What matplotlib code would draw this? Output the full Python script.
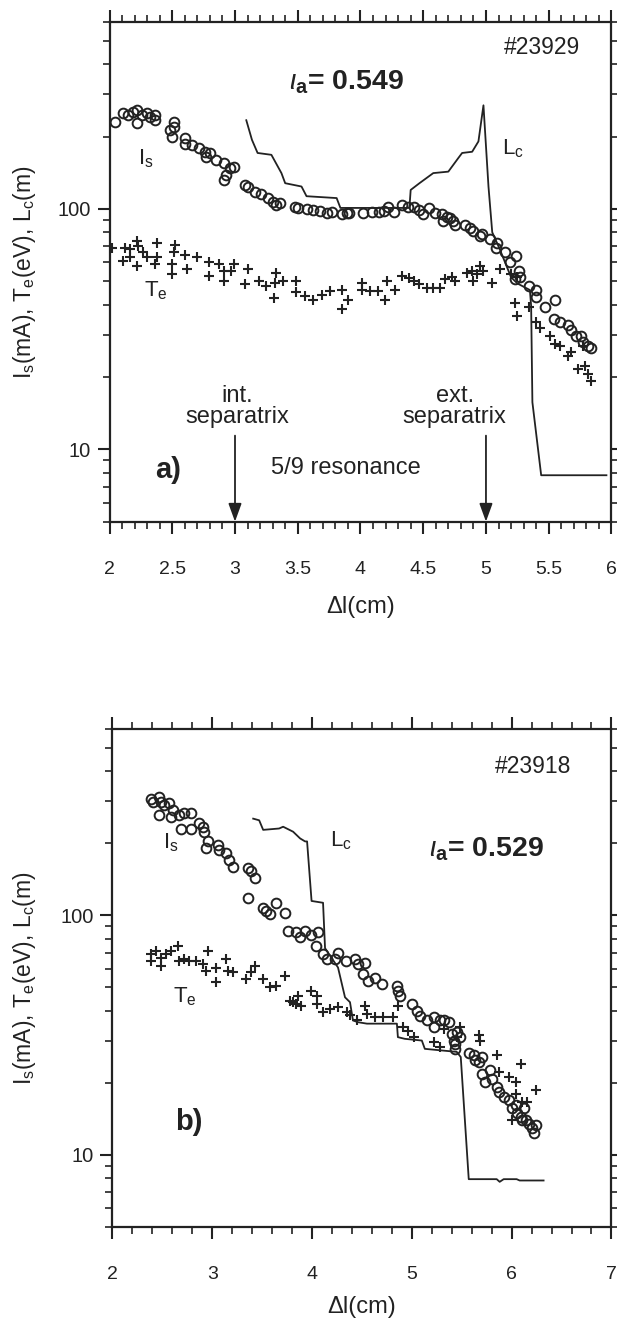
import matplotlib
matplotlib.use('Agg')
import matplotlib.pyplot as plt
import matplotlib.ticker as ticker

plt.rcParams['font.family'] = ['Liberation Sans', 'DejaVu Sans']
plt.rcParams['mathtext.fontset'] = 'custom'
plt.rcParams['mathtext.rm'] = 'Liberation Sans'
plt.rcParams['mathtext.it'] = 'Liberation Sans:italic'
plt.rcParams['mathtext.bf'] = 'Liberation Sans:bold'

ink = '#222222'

# ---- panel a) shot #23929 ----
a_is_x = [2.04, 2.11, 2.15, 2.19, 2.22, 2.22, 2.26, 2.30, 2.32, 2.36, 2.36, 2.48, 2.50, 2.51, 2.51,
          2.60, 2.60, 2.66, 2.71, 2.76, 2.77, 2.80, 2.85, 2.91, 2.91, 2.93, 2.96, 2.99, 3.08, 3.10,
          3.16, 3.21, 3.26, 3.30, 3.33, 3.36, 3.48, 3.50, 3.57, 3.62, 3.68, 3.73, 3.77, 3.85, 3.89,
          3.91, 4.02, 4.09, 4.15, 4.19, 4.22, 4.27, 4.33, 4.38, 4.43, 4.47, 4.50, 4.55, 4.59, 4.65,
          4.66, 4.69, 4.71, 4.74, 4.75, 4.83, 4.87, 4.90, 4.95, 4.97, 5.03, 5.08, 5.09, 5.15, 5.19,
          5.23, 5.24, 5.26, 5.27, 5.34, 5.40, 5.40, 5.47, 5.54, 5.55, 5.59, 5.65, 5.68, 5.72, 5.76,
          5.77, 5.81, 5.84]
a_is_y = [231, 251, 245, 254, 258, 227, 245, 250, 242, 245, 235, 213, 200, 231, 220,
          197, 187, 184, 179, 173, 165, 171, 160, 155, 132, 139, 148, 150, 126, 124,
          118, 115, 111, 107, 104, 106, 102, 101, 100, 99, 98, 96, 97, 95, 96,
          96, 96, 97, 97, 98, 102, 97, 104, 102, 102, 99, 95, 101, 96, 95,
          89, 93, 92, 89, 86, 86, 83, 81, 77, 79, 75, 69, 72, 66, 60,
          51, 64, 55, 52, 48, 46, 43, 39, 35, 42, 34, 33, 31.5, 29.7, 29.7,
          28, 27, 26.5]

a_te_x = [2.02, 2.11, 2.12, 2.16, 2.16, 2.22, 2.22, 2.23, 2.27, 2.30, 2.36, 2.375, 2.375, 2.50, 2.50,
          2.51, 2.52, 2.60, 2.62, 2.70, 2.79, 2.79, 2.87, 2.91, 2.91, 2.97, 2.99, 3.08, 3.10, 3.19,
          3.25, 3.31, 3.32, 3.33, 3.385, 3.49, 3.49, 3.56, 3.62, 3.69, 3.76, 3.85, 3.85, 3.90, 4.01,
          4.01, 4.075, 4.14, 4.195, 4.21, 4.275, 4.33, 4.39, 4.43, 4.47, 4.53, 4.58, 4.63, 4.67, 4.73,
          4.75, 4.85, 4.89, 4.90, 4.93, 4.95, 4.98, 5.05, 5.11, 5.20, 5.23, 5.245, 5.25, 5.34, 5.40,
          5.43, 5.51, 5.55, 5.59, 5.655, 5.68, 5.735, 5.77, 5.79, 5.815, 5.84]
a_te_y = [69, 61, 69, 68, 63, 73.5, 58, 70, 66, 63, 59, 72, 63, 59, 53.5,
          66, 71, 64.5, 56, 63, 60, 52.5, 59, 55, 50, 55, 59, 48.5, 56, 50,
          48, 42.7, 49, 54, 50, 50, 45, 43.5, 42, 44, 45.6, 46, 38.3, 42, 49,
          46, 45.6, 45.6, 42, 50, 46, 52.5, 51.8, 50, 48.5, 47, 47, 47, 51, 52,
          50, 54, 55, 50, 53.5, 58, 55, 49, 56, 53.5, 40.8, 35.9, 52, 39, 33.7,
          32, 29.7, 27.4, 26.9, 24.5, 25.5, 21.6, 27, 22.3, 20.6, 19.3]

a_lc_x = [3.09, 3.135, 3.18, 3.29, 3.37, 3.40, 3.53, 3.57, 3.81, 3.84, 4.39, 4.40, 4.47, 4.58,
          4.70, 4.78, 4.81, 4.89, 4.94, 4.98, 5.02, 5.05, 5.11, 5.20, 5.25, 5.35, 5.36, 5.37,
          5.44, 5.96]
a_lc_y = [234, 194, 171, 168, 141, 128, 124, 113, 111, 101, 101, 120, 128, 141,
          143, 163, 171, 173, 191, 270, 124, 80, 68, 52, 49, 46, 39.5, 15.7,
          7.8, 7.8]

# ---- panel b) shot #23918 ----
b_is_x = [2.39, 2.405, 2.47, 2.47, 2.49, 2.52, 2.57, 2.59, 2.605, 2.67, 2.69, 2.72, 2.79, 2.79, 2.87,
          2.91, 2.92, 2.94, 2.96, 3.06, 3.07, 3.14, 3.17, 3.21, 3.36, 3.36, 3.39, 3.43, 3.51, 3.54,
          3.58, 3.64, 3.73, 3.76, 3.84, 3.88, 3.93, 3.99, 4.04, 4.06, 4.11, 4.145, 4.23, 4.26, 4.34,
          4.43, 4.46, 4.51, 4.53, 4.56, 4.63, 4.70, 4.85, 4.865, 4.88, 5.00, 5.05, 5.08, 5.15, 5.22,
          5.22, 5.28, 5.32, 5.37, 5.40, 5.42, 5.43, 5.45, 5.43, 5.48, 5.57, 5.62, 5.63, 5.67, 5.70,
          5.70, 5.735, 5.785, 5.80, 5.85, 5.87, 5.92, 5.97, 6.00, 6.04, 6.05, 6.09, 6.10, 6.12, 6.14,
          6.17, 6.20, 6.22, 6.24]
b_is_y = [308, 299, 313, 263, 299, 289, 294, 258, 275, 263, 231, 267, 267, 231, 243,
          235, 224, 191, 204, 197, 188, 182, 171, 160, 158, 118, 153, 143, 107.6, 104,
          101, 113, 102.5, 86, 85, 81, 86, 83, 74.5, 85, 69, 65.7, 65.7, 70, 64.6,
          65.7, 62.5, 56.9, 63.5, 53.3, 55, 51.6, 50.8, 48.4, 46, 42.7, 40, 38, 36.4, 37.5,
          34.1, 36.4, 36.4, 35.8, 32, 30, 29.1, 32.5, 27.7, 31, 26.5, 26, 24.8, 24.4, 25.6,
          21.8, 20.2, 22.5, 20.8, 19.2, 18.3, 17.5, 16.9, 15.6, 16.1, 14.9, 14.4, 14, 15.6, 14,
          13.5, 12.9, 12.3, 13.3]

b_te_x = [2.39, 2.39, 2.44, 2.49, 2.49, 2.54, 2.59, 2.66, 2.67, 2.72, 2.77, 2.84, 2.91, 2.94, 2.96,
          3.04, 3.04, 3.14, 3.16, 3.21, 3.34, 3.39, 3.43, 3.51, 3.58, 3.64, 3.73, 3.78, 3.81, 3.84,
          3.86, 3.89, 3.99, 4.05, 4.05, 4.11, 4.18, 4.26, 4.35, 4.38, 4.45, 4.53, 4.55, 4.63, 4.71,
          4.81, 4.86, 4.91, 4.96, 5.02, 5.22, 5.28, 5.32, 5.45, 5.48, 5.67, 5.68, 5.85, 5.87, 5.97,
          6.00, 6.04, 6.04, 6.09, 6.10, 6.15, 6.24]
b_te_y = [69, 64.6, 71, 66.7, 61.6, 69, 71, 74.5, 64.6, 65.7, 64.6, 64.6, 62.5, 58.7, 71,
          60.6, 52.5, 65.7, 58.7, 57.8, 54.2, 57.8, 61.5, 54.2, 50, 50.8, 56, 44, 43.3, 42.7,
          46, 42, 48.4, 46, 42.7, 39.4, 40.7, 41.3, 39.4, 38.2, 36.4, 42, 38.8, 37.5, 37.5,
          37.5, 42, 34.1, 33, 31, 29.5, 28.2, 33.6, 31, 34.1, 31.6, 30, 26, 22.2, 21.1,
          14, 20.2, 18, 24, 16.6, 16.6, 18.6]

b_lc_x = [3.41, 3.47, 3.51, 3.67, 3.71, 3.81, 3.88, 3.93, 3.95, 3.995, 4.11, 4.13, 4.26, 4.33,
          4.38, 4.41, 4.46, 4.55, 4.85, 4.86, 4.93, 5.10, 5.13, 5.45, 5.49, 5.57, 5.85, 5.88,
          5.92, 6.05, 6.08, 6.32]
b_lc_y = [254, 250, 228, 231, 235, 224, 210, 204, 204, 115, 113, 73, 60.6, 45.5,
          43.4, 36.4, 35.8, 35.3, 35.3, 31, 30.5, 30, 27.7, 26.9, 25.6, 7.9, 7.9, 7.7,
          7.9, 7.9, 7.8, 7.8]


def style_axis(ax, xmin, xmax, xmajor, xminor):
    ax.set_yscale('log')
    ax.set_xlim(xmin, xmax)
    ax.set_ylim(5, 600)
    ax.xaxis.set_major_locator(ticker.MultipleLocator(xmajor))
    ax.xaxis.set_minor_locator(ticker.MultipleLocator(xminor))
    ax.yaxis.set_major_locator(ticker.FixedLocator([10, 100]))
    ax.yaxis.set_minor_locator(ticker.LogLocator(base=10, subs=range(2, 10)))
    ax.yaxis.set_major_formatter(ticker.FuncFormatter(lambda v, p: f'{v:g}'))
    ax.yaxis.set_minor_formatter(ticker.NullFormatter())
    ax.xaxis.set_major_formatter(ticker.FuncFormatter(lambda v, p: f'{v:g}'))
    ax.tick_params(which='both', direction='out', top=True, right=True, color=ink,
                   labelcolor=ink)
    ax.tick_params(which='major', length=8.6, width=1.5)
    ax.tick_params(which='minor', length=5, width=1.2)
    ax.tick_params(axis='x', which='major', labelsize=14, pad=20)
    ax.tick_params(axis='y', which='major', labelsize=14.5, pad=5)
    for sp in ax.spines.values():
        sp.set_linewidth(1.6)
        sp.set_color(ink)


def draw_series(ax, is_x, is_y, te_x, te_y, lc_x, lc_y):
    ax.plot(lc_x, lc_y, color=ink, lw=1.3, zorder=2)
    ax.plot(is_x, is_y, ls='none', marker='o', ms=7, mfc='none', mec=ink, mew=1.4, zorder=3)
    ax.plot(te_x, te_y, ls='none', marker='+', ms=7.5, mec=ink, mew=1.5, zorder=3)


fig = plt.figure(figsize=(6.17, 13.22), dpi=100)
fig.patch.set_facecolor('white')

ylab = r'I$_\mathregular{s}$(mA), T$_\mathregular{e}$(eV), L$_\mathregular{c}$(m)'

# panel a
ax1 = fig.add_axes([0.1775, 0.6054, 0.8135, 0.378])
style_axis(ax1, 2, 6, 0.5, 0.1)
draw_series(ax1, a_is_x, a_is_y, a_te_x, a_te_y, a_lc_x, a_lc_y)
ax1.text(0.937, 0.948, '#23929', transform=ax1.transAxes, ha='right', va='center',
         fontsize=16.5, color=ink)
ax1.text(0.358, 0.864, r'$\iota_{\mathbf{a}}$= 0.549', transform=ax1.transAxes, ha='left',
         va='baseline', fontsize=20.5, fontweight='bold', color=ink)
ax1.text(0.057, 0.714, r'I$_\mathregular{s}$', transform=ax1.transAxes, fontsize=16, color=ink)
ax1.text(0.782, 0.734, r'L$_\mathregular{c}$', transform=ax1.transAxes, fontsize=16, color=ink)
ax1.text(0.069, 0.45, r'T$_\mathregular{e}$', transform=ax1.transAxes, fontsize=16, color=ink)
ax1.text(0.091, 0.103, 'a)', transform=ax1.transAxes, va='center', fontsize=21,
         fontweight='bold', color=ink)
ax1.text(0.471, 0.107, '5/9 resonance', transform=ax1.transAxes, ha='center', va='center',
         fontsize=17, color=ink)
for xs in (3.0, 5.0):
    ax1.annotate('', xy=(xs, 5), xytext=(xs, 11.4),
                 arrowprops=dict(arrowstyle='-|>,head_length=0.55,head_width=0.2',
                                 mutation_scale=20, color=ink, lw=1.3,
                                 shrinkA=0, shrinkB=0))
ax1.text(3.02, 12.3, 'int.\nseparatrix', ha='center', va='bottom', fontsize=17,
         color=ink, linespacing=0.95)
ax1.text(4.75, 12.3, 'ext.\nseparatrix', ha='center', va='bottom', fontsize=17,
         color=ink, linespacing=0.95)

# panel b
ax2 = fig.add_axes([0.1823, 0.0721, 0.8087, 0.3762])
style_axis(ax2, 2, 7, 1, 0.2)
draw_series(ax2, b_is_x, b_is_y, b_te_x, b_te_y, b_lc_x, b_lc_y)
ax2.text(0.919, 0.925, '#23918', transform=ax2.transAxes, ha='right', va='center',
         fontsize=16.5, color=ink)
ax2.text(0.634, 0.744, r'$\iota_{\mathbf{a}}$= 0.529', transform=ax2.transAxes, ha='left',
         va='baseline', fontsize=20.5, fontweight='bold', color=ink)
ax2.text(0.101, 0.761, r'I$_\mathregular{s}$', transform=ax2.transAxes, fontsize=16, color=ink)
ax2.text(0.436, 0.764, r'L$_\mathregular{c}$', transform=ax2.transAxes, fontsize=16, color=ink)
ax2.text(0.121, 0.45, r'T$_\mathregular{e}$', transform=ax2.transAxes, fontsize=16, color=ink)
ax2.text(0.125, 0.21, 'b)', transform=ax2.transAxes, va='center', fontsize=21,
         fontweight='bold', color=ink)

# axis titles
fig.text(25 / 617, 0.7943, ylab, rotation=90, ha='center', va='center', fontsize=16.5, color=ink)
fig.text(25 / 617, 0.2602, ylab, rotation=90, ha='center', va='center', fontsize=16.5, color=ink)
fig.text(360.5 / 617, 0.5408, 'Δl(cm)', ha='center', va='center', fontsize=17, color=ink)
fig.text(362 / 617, 0.0112, 'Δl(cm)', ha='center', va='center', fontsize=17, color=ink)

fig.savefig('out.png', dpi=100, facecolor='white')
